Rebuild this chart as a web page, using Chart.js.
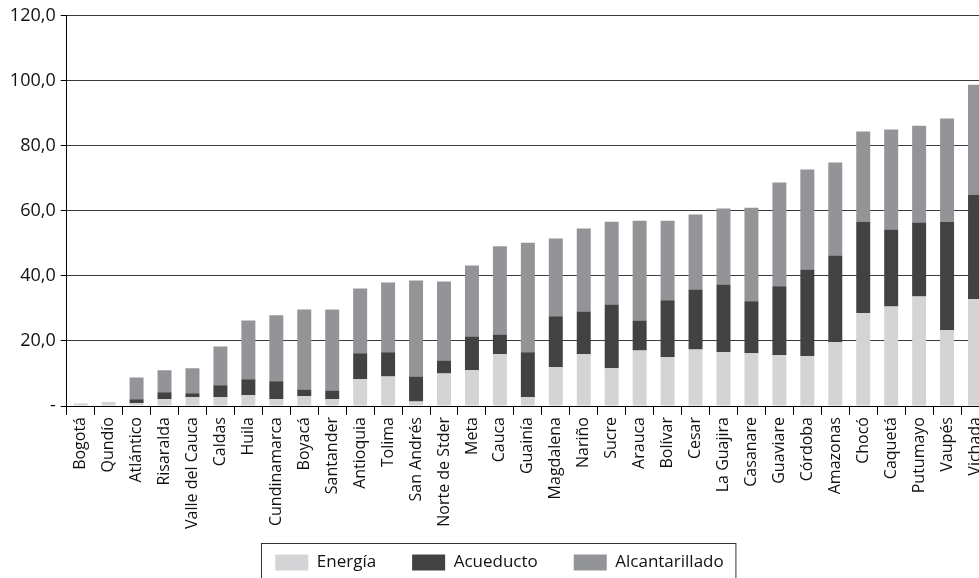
<!DOCTYPE html>
<html>
<head>
<meta charset="utf-8">
<script src="https://cdn.jsdelivr.net/npm/chart.js@4/dist/chart.umd.min.js"></script>
<style>
  html, body { margin: 0; padding: 0; background: #fff; overflow: hidden; }
  #wrap { width: 979px; height: 578px; overflow: hidden; }
</style>
</head>
<body>
<div id="wrap"><canvas id="chart" width="999" height="600"></canvas></div>
<script>
const categories = ['Bogotá', 'Qundío', 'Atlántico', 'Risaralda', 'Valle del Cauca', 'Caldas', 'Huila',
    'Cundinamarca', 'Boyacá', 'Santander', 'Antioquia', 'Tolima', 'San Andrés', 'Norte de Stder', 'Meta',
    'Cauca', 'Guainía', 'Magdalena', 'Nariño', 'Sucre', 'Arauca', 'Bolívar', 'Cesar', 'La Guajira',
    'Casanare', 'Guaviare', 'Córdoba', 'Amazonas', 'Chocó', 'Caquetá', 'Putumayo', 'Vaupés', 'Vichada'];

const energia = [0.8, 1.2, 0.9, 2.1, 2.7, 2.7, 3.3, 2.1, 3.0, 2.1, 8.2, 9.1, 1.4, 10.0, 11.0, 15.9, 2.7,
    11.9, 15.9, 11.6, 17.1, 15.1, 17.4, 16.5, 16.2, 15.6, 15.3, 19.6, 28.5, 30.6, 33.7, 23.3, 32.8];
const acueducto = [0, 0, 1.2, 2.1, 1.2, 3.7, 4.9, 5.5, 2.1, 2.7, 8.0, 7.4, 7.7, 4.0, 10.4, 6.1, 13.8,
    15.7, 13.2, 19.6, 9.2, 17.4, 18.4, 20.9, 16.0, 21.2, 26.7, 26.7, 28.2, 23.7, 22.7, 33.4, 32.2];
const alcantarillado = [0, 0, 6.7, 6.8, 7.7, 11.9, 18.1, 20.3, 24.6, 24.9, 19.9, 21.5, 29.5, 24.3, 21.8,
    27.1, 33.7, 23.9, 25.5, 25.5, 30.7, 24.5, 23.1, 23.3, 28.8, 31.9, 30.7, 28.6, 27.7, 30.7, 29.8, 31.7, 33.8];

const yMax = 120;
const yStep = 20;

// draws the frame round the legend, the bottom runs off the picture like the original
const legendFrame = {
    id: 'legendFrame',
    afterDraw(chart) {
        const boxes = chart.legend.legendHitBoxes;
        if (!boxes || !boxes.length) return;
        const last = boxes[boxes.length - 1];
        const left = boxes[0].left - 14;
        const right = last.left + last.width + 12;
        const top = boxes[0].top - 11;
        const ctx = chart.ctx;
        ctx.save();
        ctx.strokeStyle = '#333';
        ctx.lineWidth = 1;
        ctx.strokeRect(Math.round(left) + 0.5, Math.round(top) + 0.5, right - left, chart.height);
        ctx.restore();
    }
};

new Chart(document.getElementById('chart').getContext('2d'), {
    type: 'bar',
    data: {
        labels: categories,
        datasets: [
            { label: 'Energía', data: energia, backgroundColor: '#d4d4d6' },
            { label: 'Acueducto', data: acueducto, backgroundColor: '#424242' },
            { label: 'Alcantarillado', data: alcantarillado, backgroundColor: '#939497' }
        ]
    },
    options: {
        responsive: false,
        animation: false,
        devicePixelRatio: 1,
        datasets: { bar: { barPercentage: 0.5, categoryPercentage: 1.0 } },
        layout: { padding: { left: 10, right: 10, top: 15, bottom: 19 } },
        scales: {
            x: {
                stacked: true,
                afterFit: scale => {
                    scale.height = 112;
                    // labels are longer than the forced height, don't clip them
                    scale._computeLabelArea = () => undefined;
                },
                grid: { display: true, offset: true, drawOnChartArea: false, drawTicks: true,
                        tickLength: 9, color: '#000', tickColor: '#000' },
                border: { display: true, color: '#000', width: 1 },
                ticks: {
                    autoSkip: false, maxRotation: 90, minRotation: 90, padding: 2,
                    color: '#111', font: { family: 'Open Sans', size: 16 }
                }
            },
            y: {
                stacked: true,
                min: 0,
                max: yMax,
                afterFit: scale => { scale.width = 56.7; },
                grid: { color: '#3a3a3a', lineWidth: 1, drawTicks: true, tickLength: 6, tickColor: '#000' },
                border: { display: true, color: '#000', width: 1 },
                ticks: {
                    stepSize: yStep, padding: 5, color: '#111',
                    font: { family: 'Open Sans', size: 18 },
                    callback: v => v === 0 ? '-' : v.toFixed(1).replace('.', ',')
                }
            }
        },
        plugins: {
            tooltip: { enabled: false },
            legend: {
                display: true,
                position: 'bottom',
                labels: {
                    boxWidth: 33, boxHeight: 16, padding: 36, color: '#111',
                    font: { family: 'Open Sans', size: 17 }
                }
            }
        }
    },
    plugins: [legendFrame]
});
</script>
</body>
</html>
